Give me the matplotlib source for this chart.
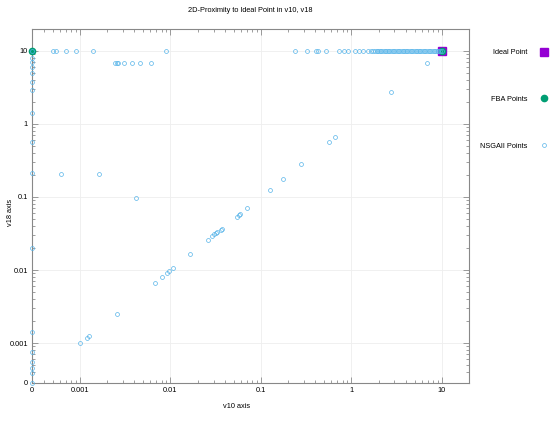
import numpy as np
import matplotlib.pyplot as plt

plt.rcParams['font.family'] = ['Liberation Sans', 'DejaVu Sans']
plt.rcParams['font.size'] = 5.3

# =============================================================================
# Data
# =============================================================================
# NSGAII points with v10 = 0
col_y = [10, 7.94, 7.13, 6.10, 4.95, 3.80, 2.92, 1.40, 0.57, 0.211, 0.0198,
         0.00143, 7.6e-4, 5.54e-4, 4.5e-4, 3.84e-4, 0]
# NSGAII points with v18 = 10
top_x = [5.07e-4, 5.39e-4, 6.95e-4, 9.03e-4, 1.38e-3, 9.0e-3,
         0.238, 0.325, 0.405, 0.43, 0.523, 0.733, 0.832, 0.921, 1.09, 1.21,
         1.35, 1.53, 1.67, 1.75, 1.82, 1.9, 1.98, 2.06, 2.15, 2.24, 2.33,
         2.43, 2.53, 2.64, 2.75, 2.87, 2.99, 3.12, 3.25, 3.39, 3.53, 3.68,
         3.84, 4.0, 4.17, 4.35, 4.53, 4.72, 4.92, 5.13, 5.35, 5.58, 5.81,
         6.06, 6.32, 6.59, 6.87, 7.16, 7.46, 7.78, 8.11, 8.45, 8.81, 9.18,
         9.57, 10.0]
# NSGAII points with v18 ~ 6.9
row7_x = [2.44e-3, 2.56e-3, 2.65e-3, 3.09e-3, 3.78e-3, 4.63e-3, 6.13e-3, 6.95]
# NSGAII points near the diagonal
diag_x = [9.92e-4, 1.19e-3, 1.26e-3, 2.56e-3, 6.69e-3, 8.06e-3, 9.08e-3,
          9.7e-3, 0.01074, 0.01656, 0.0262, 0.029, 0.0305, 0.0316, 0.0327,
          0.0359, 0.0371, 0.0539, 0.0571, 0.059, 0.0706, 0.1257, 0.176,
          0.279, 0.56, 0.652, 2.75]
diag_y = [1.0e-3, 1.18e-3, 1.24e-3, 2.52e-3, 6.64e-3, 8.02e-3, 9.1e-3,
          9.69e-3, 0.01076, 0.01656, 0.0258, 0.0292, 0.0308, 0.0318, 0.0328,
          0.0357, 0.0368, 0.0532, 0.0567, 0.059, 0.0706, 0.1247, 0.1766,
          0.281, 0.561, 0.657, 2.77]
other_x = [6.12e-4, 1.62e-3, 4.16e-3]
other_y = [0.2065, 0.2065, 0.098]

ideal_x = [10]
ideal_y = [10]
fba_x = [0, 10]
fba_y = [10, 10]

ticks = [0, 0.001, 0.01, 0.1, 1, 10]
tick_labels = ['0', '0.001', '0.01', '0.1', '1', '10']

nsga_x = [0] * len(col_y) + top_x + row7_x + diag_x + other_x
nsga_y = col_y + [10] * len(top_x) + [6.9] * len(row7_x) + diag_y + other_y

# =============================================================================
# Plotting figure
# =============================================================================
x_lo, y_lo = 2.95e-4, 2.86e-4


def fwd(lo):
    return lambda v: np.log10(np.maximum(v, lo))


def inv(t):
    return 10.0 ** np.asarray(t)


fig = plt.figure(figsize=(5.5, 4.26), dpi=100)
ax = fig.add_axes([32 / 550, 43.3 / 426, 437 / 550, 353.7 / 426])
ax.set_xscale('function', functions=(fwd(x_lo), inv))
ax.set_yscale('function', functions=(fwd(y_lo), inv))

h_ideal, = ax.plot(ideal_x, ideal_y, ls='none', marker='s', ms=5.5,
                   color='#9400d3', zorder=3, clip_on=False)
h_fba, = ax.plot(fba_x, fba_y, ls='none', marker='o', ms=4.5,
                 color='#009e73', zorder=4, clip_on=False)
h_nsga, = ax.plot(nsga_x, nsga_y, ls='none', marker='o', ms=2.8, mew=0.5,
                  mfc='none', mec='#56b4e9', zorder=5, clip_on=False)

ax.set_xlim(0, 20)
ax.set_ylim(0, 20)
ax.set_xticks(ticks)
ax.set_xticklabels(tick_labels)
ax.set_yticks(ticks)
ax.set_yticklabels(tick_labels)
minor = [k * 10.0 ** e for e in range(-4, 2) for k in range(2, 10)]
ax.set_xticks([m for m in minor if x_lo * 1.1 < m < 20], minor=True)
ax.set_yticks([m for m in minor if y_lo * 1.1 < m < 20], minor=True)

ax.tick_params(which='both', direction='in', top=True, right=True,
               color='#777777', width=0.5, labelcolor='black')
ax.tick_params(which='major', length=4, pad=3)
ax.tick_params(which='minor', length=2)
ax.grid(True, which='major', color='#eeeeee', lw=0.6, zorder=0)
for s in ax.spines.values():
    s.set_color('#888888')
    s.set_linewidth(0.8)

fig.text(250 / 550, 1 - 10 / 426, '2D-Proximity to Ideal Point in v10, v18',
         ha='center', va='center')
fig.text(237 / 550, 1 - 406 / 426, 'v10 axis', ha='center', va='center')
fig.text(10 / 550, 1 - 212 / 426, 'v18 axis', ha='center', va='center',
         rotation=90)

fig.legend([h_ideal, h_fba, h_nsga], ['Ideal Point', 'FBA Points', 'NSGAII Points'],
           loc='upper right', bbox_to_anchor=(547 / 550, 1 - 49 / 426),
           bbox_transform=fig.transFigure, frameon=False, markerfirst=False,
           labelspacing=5.4, handlelength=0.8, handletextpad=1.8,
           borderpad=0, borderaxespad=0)

fig.savefig('out.png', dpi=100)
